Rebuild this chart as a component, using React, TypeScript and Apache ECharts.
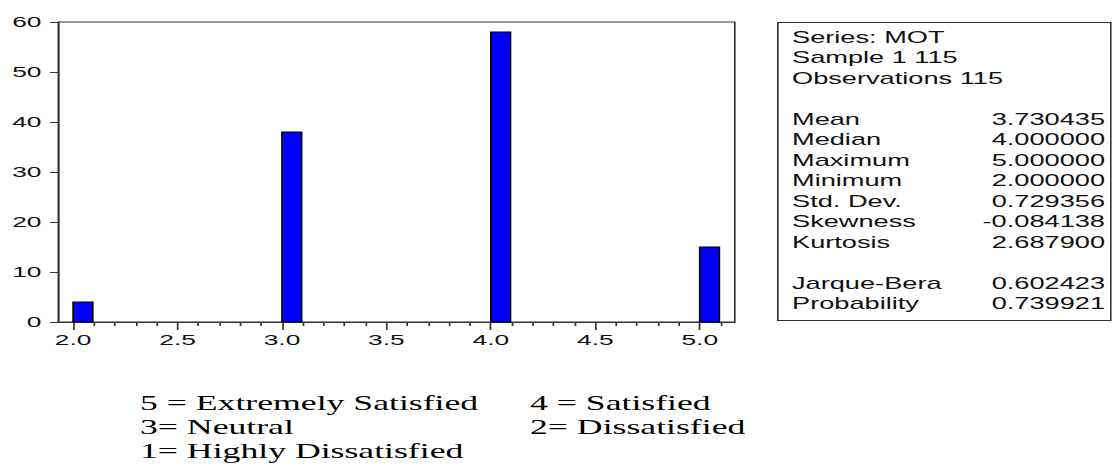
import React, { useEffect, useRef } from "react";
import * as echarts from "echarts";

// ---- data ----
const binStarts = [2.0, 3.0, 4.0, 5.0];
const binCounts = [4, 38, 58, 15];
const xMajorTicks = [2.0, 2.5, 3.0, 3.5, 4.0, 4.5, 5.0];
const xMinorTicks = [2.1, 2.2, 2.3, 2.4, 2.6, 2.7, 2.8, 2.9, 3.1, 3.2, 3.3, 3.4, 3.6, 3.7, 3.8, 3.9, 4.1, 4.2, 4.3, 4.4, 4.6, 4.7, 4.8, 4.9, 5.1];
const headerLines = ["Series: MOT", "Sample 1 115", "Observations 115"];
const statNames = ["Mean", "Median", "Maximum", "Minimum", "Std. Dev.", "Skewness", "Kurtosis"];
const statValues = ["3.730435", "4.000000", "5.000000", "2.000000", "0.729356", "-0.084138", "2.687900"];
const testNames = ["Jarque-Bera", "Probability"];
const testValues = ["0.602423", "0.739921"];
const legendLeft = ["5 = Extremely Satisfied", "3= Neutral", "1= Highly Dissatisfied"];
const legendRight = ["4 = Satisfied", "2= Dissatisfied"];

// ---- layout (the reference image is stretched horizontally) ----
const STRETCH = 1.7;
const FULL_W = 1112;
const H = 466;
const W = FULL_W / STRETCH;
const sx = (px: number) => px / STRETCH;
const BAR_SPAN = 0.094;
const AXIS_FONT = "'Liberation Sans', Arial, sans-serif";
const SERIF_FONT = "'Liberation Serif', 'Times New Roman', serif";

export default function App() {
  const ref = useRef<HTMLDivElement>(null);
  useEffect(() => {
    if (!ref.current) return;
    const chart = echarts.init(ref.current, undefined, { renderer: "svg" });

    const graphics: any[] = [];
    // stats box
    graphics.push({
      type: "rect",
      left: sx(777),
      top: 22,
      shape: { width: sx(1110) - sx(777), height: 298 },
      style: { fill: "#fff", stroke: "#333", lineWidth: 1 },
    });
    const lineY = (i: number) => 37.5 + 20.5 * i;
    const txtL = sx(792);
    const txtR = sx(1105);
    const statStyle = { fontFamily: AXIS_FONT, fontSize: 16, fill: "#111" };
    headerLines.forEach((t, i) => {
      graphics.push({ type: "text", x: txtL, y: lineY(i), style: { ...statStyle, text: t, align: "left", verticalAlign: "middle" } });
    });
    statNames.forEach((t, i) => {
      graphics.push({ type: "text", x: txtL, y: lineY(4 + i), style: { ...statStyle, text: t, align: "left", verticalAlign: "middle" } });
      graphics.push({ type: "text", x: txtR, y: lineY(4 + i), style: { ...statStyle, text: statValues[i], align: "right", verticalAlign: "middle" } });
    });
    testNames.forEach((t, i) => {
      graphics.push({ type: "text", x: txtL, y: lineY(12 + i), style: { ...statStyle, text: t, align: "left", verticalAlign: "middle" } });
      graphics.push({ type: "text", x: txtR, y: lineY(12 + i), style: { ...statStyle, text: testValues[i], align: "right", verticalAlign: "middle" } });
    });
    // legend text
    const legStyle = { fontFamily: SERIF_FONT, fontSize: 21, fill: "#000" };
    const legY = [403, 427, 451];
    legendLeft.forEach((t, i) => {
      graphics.push({ type: "text", x: sx(140), y: legY[i], style: { ...legStyle, text: t, align: "left", verticalAlign: "middle" } });
    });
    legendRight.forEach((t, i) => {
      graphics.push({ type: "text", x: sx(530), y: legY[i], style: { ...legStyle, text: t, align: "left", verticalAlign: "middle" } });
    });

    const xMin = 1.93;
    const xMax = 5.168;

    chart.setOption({
      animation: false,
      backgroundColor: "#fff",
      grid: {
        left: sx(58.5),
        right: W - sx(735),
        top: 22,
        bottom: H - 322,
        show: true,
        borderColor: "#333",
        borderWidth: 1,
        backgroundColor: "#fff",
      },
      xAxis: [
        {
          type: "value",
          min: xMin,
          max: xMax,
          position: "bottom",
          splitLine: { show: false },
          axisLine: { show: true, lineStyle: { color: "#333", width: 1 } },
          axisTick: { show: true, inside: false, length: 8, customValues: xMajorTicks, lineStyle: { color: "#333" } },
          axisLabel: {
            show: true,
            customValues: xMajorTicks,
            margin: 10,
            fontFamily: AXIS_FONT,
            fontSize: 15.5,
            color: "#111",
            formatter: (v: number) => v.toFixed(1),
          },
        },
        {
          type: "value",
          min: xMin,
          max: xMax,
          position: "bottom",
          offset: 0,
          splitLine: { show: false },
          axisLine: { show: false },
          axisTick: { show: true, inside: false, length: 4, customValues: xMinorTicks, lineStyle: { color: "#333" } },
          axisLabel: { show: false },
        },
      ],
      yAxis: {
        type: "value",
        min: 0,
        max: 60,
        interval: 10,
        splitLine: { show: false },
        axisLine: { show: true, lineStyle: { color: "#333", width: 1 } },
        axisTick: { show: true, inside: false, length: 5, lineStyle: { color: "#333" } },
        axisLabel: { margin: 10, fontFamily: AXIS_FONT, fontSize: 15.5, color: "#111" },
      },
      series: [
        {
          type: "custom",
          xAxisIndex: 0,
          yAxisIndex: 0,
          data: binStarts.map((x, i) => [x, binCounts[i]]),
          encode: { x: 0, y: 1 },
          renderItem: (params: any, api: any) => {
            const x0 = api.value(0);
            const c = api.value(1);
            const p1 = api.coord([x0, c]);
            const p2 = api.coord([x0 + BAR_SPAN, 0]);
            return {
              type: "rect",
              shape: { x: p1[0], y: p1[1], width: p2[0] - p1[0], height: p2[1] - p1[1] },
              style: { fill: "#0000ff", stroke: "#000", lineWidth: 1 },
            };
          },
        },
      ],
      graphic: graphics,
    });
    return () => chart.dispose();
  }, []);

  return (
    <div style={{ position: "absolute", left: 0, top: 0, width: FULL_W, height: H, overflow: "hidden", background: "#fff" }}>
      <div
        ref={ref}
        style={{ width: W, height: H, transform: `scaleX(${STRETCH})`, transformOrigin: "0 0" }}
      />
    </div>
  );
}
